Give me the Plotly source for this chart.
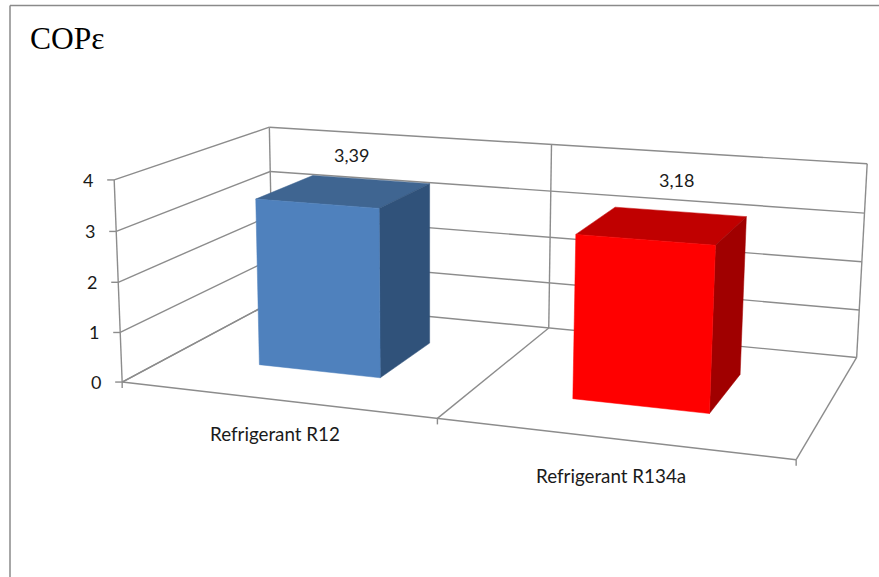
import numpy as np
import plotly.graph_objects as go

# Chart data
categories = ["Refrigerant R12", "Refrigerant R134a"]
cop_values = [3.39, 3.18]
value_labels = ["3,39", "3,18"]
value_ticks = [0, 1, 2, 3, 4]
chart_title = "COPε"

# Bar appearance: front, top and side face colours per series
front_colors = ["#4F81BD", "#FF0000"]
top_colors = ["#3F6591", "#C00000"]
side_colors = ["#30527A", "#A00000"]
GRID_COLOR = "#8C8C8C"
TEXT_COLOR = "#1A1A1A"
TEXT_FONT = "Lato"

# Bar footprint inside each category cell, and where the labels sit
BAR_HALF_WIDTH = 0.2
BAR_DEPTH = (0.3, 0.7)
LABEL_SHIFT = [(7, -36), (14, -45)]
CATEGORY_LABEL_DROP = [34, 37]

# Camera of the 3D view: homogeneous matrix from (category, depth, value) to the canvas
CAMERA = np.array([
    [288.716939, 196.246946, -2.714876, 122.166464],
    [10.958182, -30.146299, -51.666518, 382.056144],
    [-0.060643, 0.167026, -0.006299, 1.0],
])
WIDTH, HEIGHT = 879, 577


def project(cat, depth, value):
    h = CAMERA @ np.array([cat, depth, value, 1.0])
    return h[0] / h[2], h[1] / h[2]


def polyline(points):
    xy = [project(*p) for p in points]
    return [p[0] for p in xy], [p[1] for p in xy]


def segments(pairs):
    xs, ys = [], []
    for a, b in pairs:
        x, y = polyline([a, b])
        xs += x + [None]
        ys += y + [None]
    return xs, ys


n_cat = len(categories)
z_min, z_max = value_ticks[0], value_ticks[-1]

# Gridlines on the left wall, back wall and floor
grid = []
for v in value_ticks:
    grid.append(((0, 0, v), (0, 1, v)))
    grid.append(((0, 1, v), (n_cat, 1, v)))
for c in range(n_cat + 1):
    grid.append(((c, 1, z_min), (c, 1, z_max)))
    grid.append(((c, 0, z_min), (c, 1, z_min)))
grid.append(((0, 0, z_min), (n_cat, 0, z_min)))
grid.append(((0, 0, z_min), (0, 0, z_max)))

fig = go.Figure()
gx, gy = segments(grid)

# Tick marks stick out of the axes by a fixed screen distance
VALUE_TICK_LEN, CAT_TICK_LEN = 7, 6
for v in value_ticks:
    x, y = project(0, 0, v)
    gx += [x - VALUE_TICK_LEN, x, None]
    gy += [y, y, None]
for c in range(n_cat + 1):
    x, y = project(c, 0, z_min)
    gx += [x, x, None]
    gy += [y, y + CAT_TICK_LEN, None]

fig.add_trace(go.Scatter(x=gx, y=gy, mode="lines", hoverinfo="skip", showlegend=False,
                         line=dict(color=GRID_COLOR, width=1.4)))


def add_face(points, color):
    x, y = polyline(points + points[:1])
    fig.add_trace(go.Scatter(x=x, y=y, mode="lines", fill="toself", fillcolor=color,
                             line=dict(color=color, width=0.5), hoverinfo="skip",
                             showlegend=False))


annotations = []
for i, v in enumerate(cop_values):
    c0, c1 = i + 0.5 - BAR_HALF_WIDTH, i + 0.5 + BAR_HALF_WIDTH
    d0, d1 = BAR_DEPTH
    add_face([(c0, d0, v), (c1, d0, v), (c1, d1, v), (c0, d1, v)], top_colors[i])
    add_face([(c1, d0, 0), (c1, d1, 0), (c1, d1, v), (c1, d0, v)], side_colors[i])
    add_face([(c0, d0, 0), (c1, d0, 0), (c1, d0, v), (c0, d0, v)], front_colors[i])

    x, y = project(i + 0.5, 0.5, v)
    annotations.append(dict(x=x, y=y, text=value_labels[i], showarrow=False,
                            xshift=LABEL_SHIFT[i][0], yshift=-LABEL_SHIFT[i][1],
                            font=dict(family=TEXT_FONT, size=18, color=TEXT_COLOR)))

    x, y = project(i + 0.5, 0, 0)
    annotations.append(dict(x=x, y=y, text=categories[i], showarrow=False,
                            yshift=-CATEGORY_LABEL_DROP[i],
                            font=dict(family=TEXT_FONT, size=18.8, color=TEXT_COLOR)))

for v in value_ticks:
    x, y = project(0, 0, v)
    annotations.append(dict(x=x, y=y, text=str(v), showarrow=False, xanchor="right",
                            xshift=-19, font=dict(family=TEXT_FONT, size=18, color=TEXT_COLOR)))

annotations.append(dict(xref="paper", yref="paper", x=30 / WIDTH, y=1 - 38 / HEIGHT,
                        text=chart_title, showarrow=False, xanchor="left", yanchor="middle",
                        xshift=-2, font=dict(family="Liberation Serif", size=31.5, color="#000000")))

# Chart frame: only its top and left edges fall inside the canvas
frame = dict(type="line", xref="paper", yref="paper", line=dict(color="#8A8A8A", width=1.5))
shapes = [
    dict(frame, x0=10 / WIDTH, x1=10 / WIDTH, y0=0, y1=1 - 5.5 / HEIGHT),
    dict(frame, x0=10 / WIDTH, x1=1, y0=1 - 5.5 / HEIGHT, y1=1 - 5.5 / HEIGHT),
]

fig.update_layout(
    width=WIDTH, height=HEIGHT, margin=dict(l=0, r=0, t=0, b=0),
    paper_bgcolor="white", plot_bgcolor="white", showlegend=False,
    xaxis=dict(range=[0, WIDTH], visible=False, fixedrange=True),
    yaxis=dict(range=[HEIGHT, 0], visible=False, fixedrange=True),
    annotations=annotations, shapes=shapes,
)
fig.write_html("out.html", config=dict(displayModeBar=False))
